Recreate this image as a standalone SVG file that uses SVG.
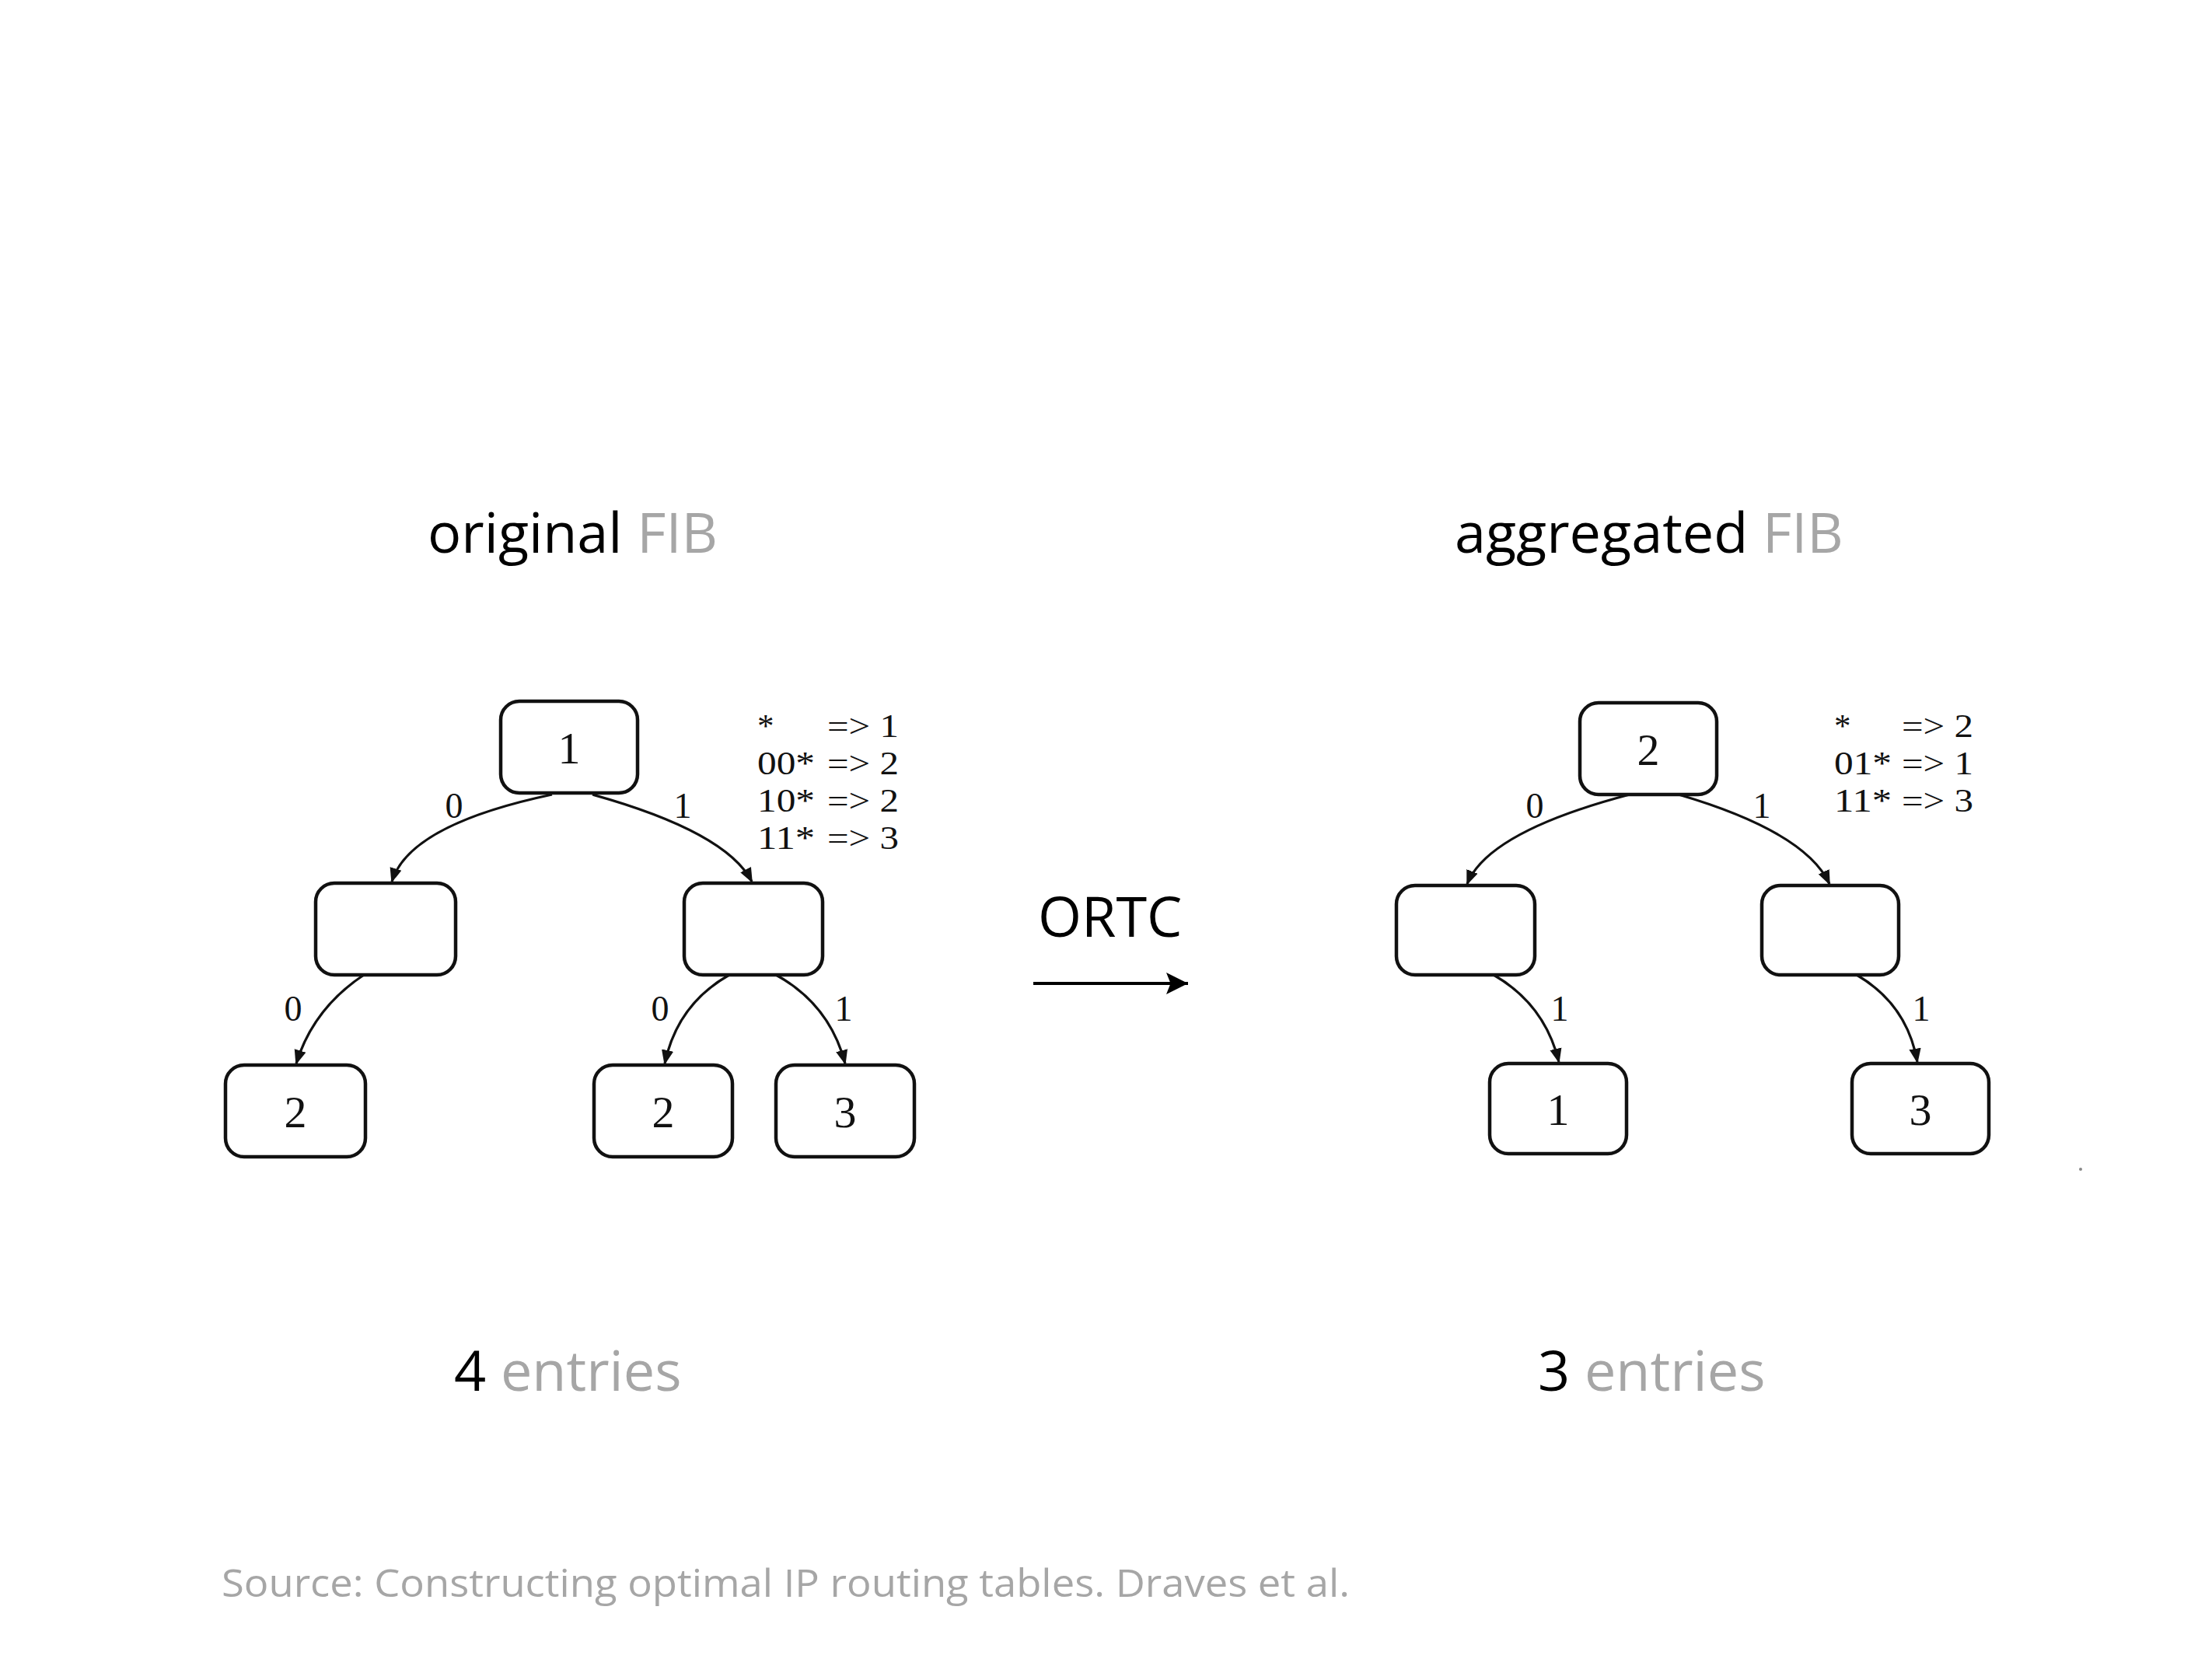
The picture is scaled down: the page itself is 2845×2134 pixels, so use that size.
<svg xmlns="http://www.w3.org/2000/svg" width="2845" height="2134" viewBox="0 0 2845 2134">
<defs>
<style>
.title{font-family:"Open Sans","Liberation Sans",sans-serif;font-size:72px;fill:#000}
.gray{fill:#a6a6a6}
.src{font-family:"Open Sans","Liberation Sans",sans-serif;font-size:50px;fill:#a6a6a6}
.box{fill:#fff;stroke:#111;stroke-width:4.5}
.num{font-family:"Liberation Serif",serif;font-size:58px;fill:#111;text-anchor:middle}
.lbl{font-family:"Liberation Serif",serif;font-size:46px;fill:#111;text-anchor:middle}
.tbl{font-family:"Liberation Serif",serif;font-size:43px;fill:#111}
.edge{fill:none;stroke:#111;stroke-width:3.2;marker-end:url(#ah)}
</style>
<marker id="ah" viewBox="0 0 10 10" refX="9" refY="5" markerWidth="6" markerHeight="6" orient="auto" markerUnits="strokeWidth">
<path d="M0,1 L10,5 L0,9 z" fill="#111"/>
</marker>
<marker id="bigah" viewBox="0 0 10 10" refX="10" refY="5" markerWidth="7" markerHeight="7" orient="auto" markerUnits="strokeWidth">
<path d="M0,0 L10,5 L0,10 L2,5 z" fill="#000"/>
</marker>
</defs>
<rect width="2845" height="2134" fill="#fff"/>

<g id="titles">
<text class="title" x="550" y="711">original <tspan class="gray">FIB</tspan></text>
<text class="title" x="1871" y="711">aggregated <tspan class="gray">FIB</tspan></text>
<text class="title" x="584" y="1789">4 <tspan class="gray">entries</tspan></text>
<text class="title" x="1978" y="1789">3 <tspan class="gray">entries</tspan></text>
<text class="src" x="285" y="2054" textLength="1451" lengthAdjust="spacingAndGlyphs">Source: Constructing optimal IP routing tables. Draves et al.</text>
</g>

<g id="ortc">
<text class="title" x="1335" y="1205">ORTC</text>
<line x1="1329" y1="1265" x2="1528" y2="1265" stroke="#000" stroke-width="4" marker-end="url(#bigah)"/>
</g>

<g id="connectors">
<path class="edge" d="M710,1022 Q526,1061 504,1134"/>
<path class="edge" d="M762,1022 Q934,1070 967,1134"/>
<path class="edge" d="M468,1254 Q403,1297 381,1368"/>
<path class="edge" d="M938,1254 Q871,1292 855,1368"/>
<path class="edge" d="M998,1254 Q1067,1292 1087,1368"/>
<path class="edge" d="M2096,1022 Q1914,1070 1887,1137"/>
<path class="edge" d="M2159,1022 Q2322,1070 2353,1137"/>
<path class="edge" d="M1921,1254 Q1987,1292 2005,1366"/>
<path class="edge" d="M2388,1254 Q2453,1292 2466,1366"/>
</g>

<g id="edge-labels">
<text class="lbl" x="584" y="1052">0</text>
<text class="lbl" x="878" y="1052">1</text>
<text class="lbl" x="377" y="1313">0</text>
<text class="lbl" x="849" y="1313">0</text>
<text class="lbl" x="1085" y="1313">1</text>
<text class="lbl" x="1974" y="1052">0</text>
<text class="lbl" x="2266" y="1052">1</text>
<text class="lbl" x="2006" y="1313">1</text>
<text class="lbl" x="2471" y="1313">1</text>
</g>

<g id="left-root"><rect class="box" x="644" y="902" width="176" height="118" rx="24"/><text class="num" x="732" y="982">1</text></g>
<g id="left-mid-l"><rect class="box" x="406" y="1136" width="180" height="118" rx="24"/></g>
<g id="left-mid-r"><rect class="box" x="880" y="1136" width="178" height="118" rx="24"/></g>
<g id="left-leaf-1"><rect class="box" x="290" y="1370" width="180" height="118" rx="24"/><text class="num" x="380" y="1450">2</text></g>
<g id="left-leaf-2"><rect class="box" x="764" y="1370" width="178" height="118" rx="24"/><text class="num" x="853" y="1450">2</text></g>
<g id="left-leaf-3"><rect class="box" x="998" y="1370" width="178" height="118" rx="24"/><text class="num" x="1087" y="1450">3</text></g>

<g id="left-table">
<text class="tbl"><tspan x="974" y="948">*</tspan><tspan x="1064" y="948" textLength="92" lengthAdjust="spacingAndGlyphs">=&gt; 1</tspan><tspan x="974" y="996" textLength="74" lengthAdjust="spacingAndGlyphs">00*</tspan><tspan x="1064" y="996" textLength="92" lengthAdjust="spacingAndGlyphs">=&gt; 2</tspan><tspan x="974" y="1044" textLength="74" lengthAdjust="spacingAndGlyphs">10*</tspan><tspan x="1064" y="1044" textLength="92" lengthAdjust="spacingAndGlyphs">=&gt; 2</tspan><tspan x="974" y="1092" textLength="74" lengthAdjust="spacingAndGlyphs">11*</tspan><tspan x="1064" y="1092" textLength="92" lengthAdjust="spacingAndGlyphs">=&gt; 3</tspan></text>
</g>

<g id="right-root"><rect class="box" x="2032" y="904" width="176" height="118" rx="24"/><text class="num" x="2120" y="984">2</text></g>
<g id="right-mid-l"><rect class="box" x="1796" y="1139" width="178" height="115" rx="24"/></g>
<g id="right-mid-r"><rect class="box" x="2266" y="1139" width="176" height="115" rx="24"/></g>
<g id="right-leaf-1"><rect class="box" x="1916" y="1368" width="176" height="116" rx="24"/><text class="num" x="2004" y="1447">1</text></g>
<g id="right-leaf-3"><rect class="box" x="2382" y="1368" width="176" height="116" rx="24"/><text class="num" x="2470" y="1447">3</text></g>

<g id="right-table">
<text class="tbl"><tspan x="2359" y="948">*</tspan><tspan x="2446" y="948" textLength="92" lengthAdjust="spacingAndGlyphs">=&gt; 2</tspan><tspan x="2359" y="996" textLength="74" lengthAdjust="spacingAndGlyphs">01*</tspan><tspan x="2446" y="996" textLength="92" lengthAdjust="spacingAndGlyphs">=&gt; 1</tspan><tspan x="2359" y="1044" textLength="74" lengthAdjust="spacingAndGlyphs">11*</tspan><tspan x="2446" y="1044" textLength="92" lengthAdjust="spacingAndGlyphs">=&gt; 3</tspan></text>
</g>

<circle cx="2676" cy="1504" r="2" fill="#888"/>
</svg>
